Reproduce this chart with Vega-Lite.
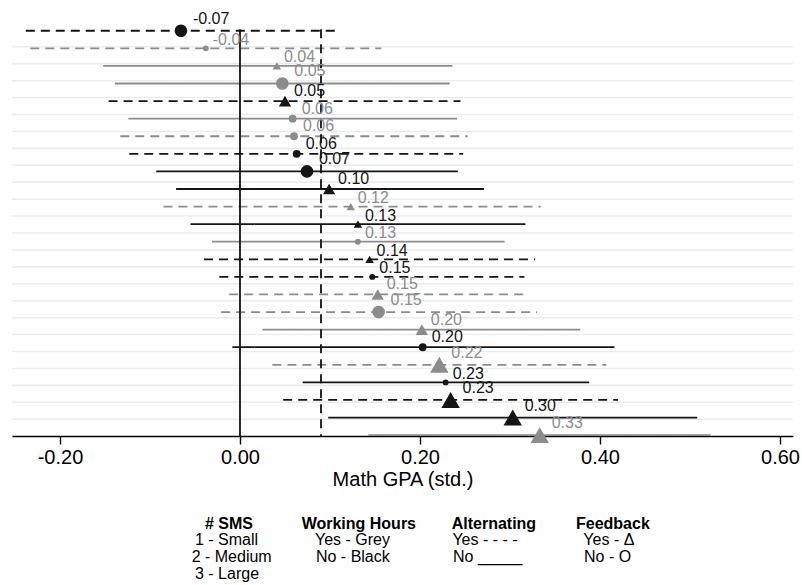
{
  "$schema": "https://vega.github.io/schema/vega-lite/v6.json",
  "autosize": {"type": "none"},
  "width": 781,
  "height": 426,
  "padding": {"left": 12, "top": 10, "right": 9, "bottom": 149},
  "background": "white",
  "config": {
    "locale": {"number": {"decimal": ".", "thousands": ",", "grouping": [3], "currency": ["$", ""], "minus": "-"}},
    "font": "Liberation Sans",
    "view": {"stroke": null}
  },
  "datasets": {
    "est": [
      {"row": 1, "est": -0.0656, "lo": -0.238, "hi": 0.106, "sms": "Large", "hours": "No", "alt": "Yes", "fb": "No"},
      {"row": 2, "est": -0.038, "lo": -0.233, "hi": 0.157, "sms": "Small", "hours": "Yes", "alt": "Yes", "fb": "No"},
      {"row": 3, "est": 0.041, "lo": -0.152, "hi": 0.236, "sms": "Small", "hours": "Yes", "alt": "No", "fb": "Yes"},
      {"row": 4, "est": 0.047, "lo": -0.139, "hi": 0.233, "sms": "Large", "hours": "Yes", "alt": "No", "fb": "No"},
      {"row": 5, "est": 0.05, "lo": -0.146, "hi": 0.245, "sms": "Medium", "hours": "No", "alt": "Yes", "fb": "Yes"},
      {"row": 6, "est": 0.0585, "lo": -0.124, "hi": 0.241, "sms": "Medium", "hours": "Yes", "alt": "No", "fb": "No"},
      {"row": 7, "est": 0.06, "lo": -0.133, "hi": 0.253, "sms": "Medium", "hours": "Yes", "alt": "Yes", "fb": "No"},
      {"row": 8, "est": 0.063, "lo": -0.123, "hi": 0.248, "sms": "Medium", "hours": "No", "alt": "Yes", "fb": "No"},
      {"row": 9, "est": 0.0744, "lo": -0.093, "hi": 0.242, "sms": "Large", "hours": "No", "alt": "No", "fb": "No"},
      {"row": 10, "est": 0.099, "lo": -0.071, "hi": 0.271, "sms": "Medium", "hours": "No", "alt": "No", "fb": "Yes"},
      {"row": 11, "est": 0.123, "lo": -0.085, "hi": 0.334, "sms": "Small", "hours": "Yes", "alt": "Yes", "fb": "Yes"},
      {"row": 12, "est": 0.131, "lo": -0.055, "hi": 0.317, "sms": "Small", "hours": "No", "alt": "No", "fb": "Yes"},
      {"row": 13, "est": 0.131, "lo": -0.031, "hi": 0.294, "sms": "Small", "hours": "Yes", "alt": "No", "fb": "No"},
      {"row": 14, "est": 0.144, "lo": -0.04, "hi": 0.328, "sms": "Small", "hours": "No", "alt": "Yes", "fb": "Yes"},
      {"row": 15, "est": 0.147, "lo": -0.023, "hi": 0.316, "sms": "Small", "hours": "No", "alt": "Yes", "fb": "No"},
      {"row": 16, "est": 0.153, "lo": -0.012, "hi": 0.317, "sms": "Medium", "hours": "Yes", "alt": "Yes", "fb": "Yes"},
      {"row": 17, "est": 0.154, "lo": -0.021, "hi": 0.33, "sms": "Large", "hours": "Yes", "alt": "Yes", "fb": "No"},
      {"row": 18, "est": 0.202, "lo": 0.025, "hi": 0.378, "sms": "Medium", "hours": "Yes", "alt": "No", "fb": "Yes"},
      {"row": 19, "est": 0.203, "lo": -0.0085, "hi": 0.416, "sms": "Medium", "hours": "No", "alt": "No", "fb": "No"},
      {"row": 20, "est": 0.2215, "lo": 0.036, "hi": 0.407, "sms": "Large", "hours": "Yes", "alt": "Yes", "fb": "Yes"},
      {"row": 21, "est": 0.2285, "lo": 0.0696, "hi": 0.388, "sms": "Small", "hours": "No", "alt": "No", "fb": "No"},
      {"row": 22, "est": 0.234, "lo": 0.048, "hi": 0.42, "sms": "Large", "hours": "No", "alt": "Yes", "fb": "Yes"},
      {"row": 23, "est": 0.303, "lo": 0.098, "hi": 0.508, "sms": "Large", "hours": "No", "alt": "No", "fb": "Yes"},
      {"row": 24, "est": 0.333, "lo": 0.1426, "hi": 0.523, "sms": "Large", "hours": "Yes", "alt": "No", "fb": "Yes"}
    ],
    "grid": [
      {"g": 1.91}, {"g": 2.87}, {"g": 3.84}, {"g": 4.8}, {"g": 5.76}, {"g": 6.73}, {"g": 7.69}, {"g": 8.65},
      {"g": 9.61}, {"g": 10.58}, {"g": 11.54}, {"g": 12.5}, {"g": 13.47}, {"g": 14.43}, {"g": 15.39}, {"g": 16.36},
      {"g": 17.32}, {"g": 18.28}, {"g": 19.24}, {"g": 20.21}, {"g": 21.17}, {"g": 22.13}, {"g": 23.1}
    ],
    "refs": [
      {"x": 0, "style": "No"},
      {"x": 0.09, "style": "Yes"}
    ],
    "key": [
      {"text": "# SMS", "kx": -0.0389, "ky": 29.06, "kind": "header"},
      {"text": "1 - Small", "kx": -0.05, "ky": 29.97, "kind": "item"},
      {"text": "2 - Medium", "kx": -0.0537, "ky": 30.93, "kind": "item"},
      {"text": "3 - Large", "kx": -0.05, "ky": 31.9, "kind": "item"},
      {"text": "Working Hours", "kx": 0.0685, "ky": 29.06, "kind": "header"},
      {"text": "Yes - Grey", "kx": 0.0833, "ky": 29.97, "kind": "item"},
      {"text": "No - Black", "kx": 0.0844, "ky": 30.93, "kind": "item"},
      {"text": "Alternating", "kx": 0.2352, "ky": 29.06, "kind": "header"},
      {"text": "Yes - - - -", "kx": 0.236, "ky": 29.97, "kind": "item"},
      {"text": "No _____", "kx": 0.2367, "ky": 30.93, "kind": "item"},
      {"text": "Feedback", "kx": 0.3733, "ky": 29.06, "kind": "header"},
      {"text": "Yes - Δ", "kx": 0.3815, "ky": 29.97, "kind": "item"},
      {"text": "No - O", "kx": 0.3822, "ky": 30.93, "kind": "item"}
    ]
  },
  "resolve": {"scale": {"size": "independent"}},
  "layer": [
    {
      "data": {"name": "grid"},
      "mark": {"type": "rule", "strokeWidth": 1.6, "color": "#e6eef2"},
      "encoding": {
        "y": {"field": "g", "type": "quantitative",
          "scale": {"domain": [-0.18, 24.05], "reverse": true, "nice": false, "zero": false},
          "axis": null}
      }
    },
    {
      "data": {"name": "est"},
      "mark": {"type": "rule", "strokeWidth": 1.8},
      "encoding": {
        "y": {"field": "row", "type": "quantitative"},
        "x": {"field": "lo", "type": "quantitative",
          "scale": {"domain": [-0.2533, 0.6144], "nice": false, "zero": false},
          "axis": {"values": [-0.2, 0, 0.2, 0.4, 0.6], "format": ".2f", "grid": false,
            "domainColor": "#000000", "domainWidth": 1.4, "tickColor": "#000000", "tickWidth": 1.4, "tickSize": 8,
            "labelFontSize": 20, "labelColor": "#000000", "labelPadding": 3, "labelFlush": false, "labelBound": false, "labelOverlap": false,
            "title": "Math GPA (std.)", "titleFontSize": 20, "titleFontWeight": "normal", "titleColor": "#000000", "titlePadding": 2}},
        "x2": {"field": "hi"},
        "color": {"field": "hours", "type": "nominal", "scale": {"domain": ["Yes", "No"], "range": ["#8c8c8c", "#151515"]}, "legend": null},
        "strokeDash": {"field": "alt", "type": "nominal", "scale": {"domain": ["Yes", "No"], "range": [[9, 6], [1, 0]]}, "legend": null}
      }
    },
    {
      "data": {"name": "refs"},
      "mark": {"type": "rule", "strokeWidth": 1.8, "color": "#111111"},
      "encoding": {
        "x": {"field": "x", "type": "quantitative"},
        "y": {"datum": 0.92},
        "y2": {"datum": 24.05},
        "strokeDash": {"field": "style", "type": "nominal", "legend": null}
      }
    },
    {
      "data": {"name": "est"},
      "transform": [{"filter": "datum.fb === 'No'"}],
      "mark": {"type": "point", "shape": "circle", "filled": true, "opacity": 1},
      "encoding": {
        "x": {"field": "est", "type": "quantitative"},
        "y": {"field": "row", "type": "quantitative"},
        "color": {"field": "hours", "type": "nominal", "legend": null},
        "size": {"field": "sms", "type": "nominal", "scale": {"type": "ordinal", "domain": ["Small", "Medium", "Large"], "range": [34, 62, 160]}, "legend": null}
      }
    },
    {
      "data": {"name": "est"},
      "transform": [{"filter": "datum.fb === 'Yes'"}],
      "mark": {"type": "point", "shape": "triangle-up", "filled": true, "opacity": 1},
      "encoding": {
        "x": {"field": "est", "type": "quantitative"},
        "y": {"field": "row", "type": "quantitative"},
        "color": {"field": "hours", "type": "nominal", "legend": null},
        "size": {"field": "sms", "type": "nominal", "scale": {"type": "ordinal", "domain": ["Small", "Medium", "Large"], "range": [72, 150, 340]}, "legend": null}
      }
    },
    {
      "data": {"name": "est"},
      "transform": [{"filter": "datum.sms === 'Small'"}],
      "mark": {"type": "text", "align": "left", "baseline": "middle", "dx": 7, "dy": -8.5, "fontSize": 16},
      "encoding": {
        "x": {"field": "est", "type": "quantitative"},
        "y": {"field": "row", "type": "quantitative"},
        "text": {"field": "est", "type": "quantitative", "format": ".2f"},
        "color": {"field": "hours", "type": "nominal", "legend": null}
      }
    },
    {
      "data": {"name": "est"},
      "transform": [{"filter": "datum.sms === 'Medium'"}],
      "mark": {"type": "text", "align": "left", "baseline": "middle", "dx": 9, "dy": -10, "fontSize": 16},
      "encoding": {
        "x": {"field": "est", "type": "quantitative"},
        "y": {"field": "row", "type": "quantitative"},
        "text": {"field": "est", "type": "quantitative", "format": ".2f"},
        "color": {"field": "hours", "type": "nominal", "legend": null}
      }
    },
    {
      "data": {"name": "est"},
      "transform": [{"filter": "datum.sms === 'Large'"}],
      "mark": {"type": "text", "align": "left", "baseline": "middle", "dx": 12, "dy": -12, "fontSize": 16},
      "encoding": {
        "x": {"field": "est", "type": "quantitative"},
        "y": {"field": "row", "type": "quantitative"},
        "text": {"field": "est", "type": "quantitative", "format": ".2f"},
        "color": {"field": "hours", "type": "nominal", "legend": null}
      }
    },
    {
      "data": {"name": "key"},
      "transform": [{"filter": "datum.kind === 'header'"}],
      "mark": {"type": "text", "align": "left", "baseline": "middle", "fontSize": 16, "fontWeight": "bold", "color": "#000000"},
      "encoding": {
        "x": {"field": "kx", "type": "quantitative"},
        "y": {"field": "ky", "type": "quantitative"},
        "text": {"field": "text"}
      }
    },
    {
      "data": {"name": "key"},
      "transform": [{"filter": "datum.kind === 'item'"}],
      "mark": {"type": "text", "align": "left", "baseline": "middle", "fontSize": 16, "color": "#000000"},
      "encoding": {
        "x": {"field": "kx", "type": "quantitative"},
        "y": {"field": "ky", "type": "quantitative"},
        "text": {"field": "text"}
      }
    }
  ]
}
